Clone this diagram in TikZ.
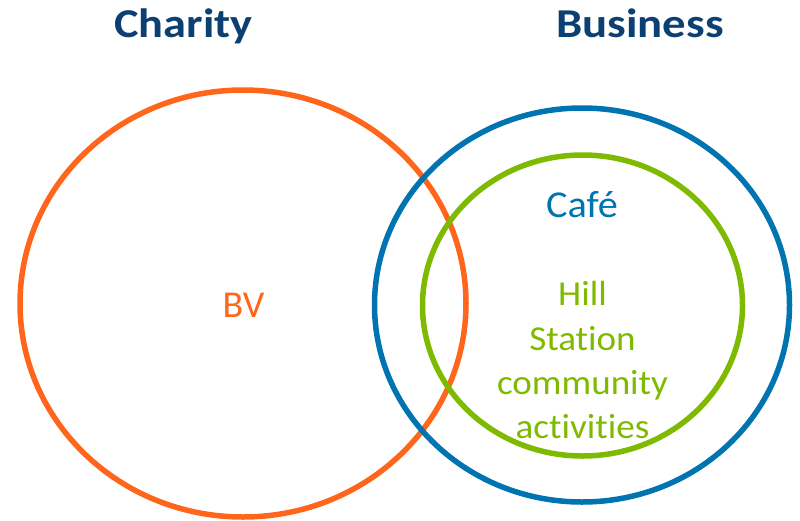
\documentclass[tikz,border=0pt]{standalone}
\usepackage{fontspec}
\setmainfont{Carlito}[Ligatures=NoCommon]
\definecolor{charityorange}{HTML}{FF661C}
\definecolor{businessblue}{HTML}{0074B0}
\definecolor{hillgreen}{HTML}{7EBA00}
\definecolor{titleblue}{HTML}{0C3F72}
\newcommand{\widen}[2]{\scalebox{#1}[1]{#2}}
\begin{document}
\begin{tikzpicture}[x=1pt,y=-1pt,
  ring/.style={line width=5.5pt},
  heading/.style={font=\fontsize{41}{48}\selectfont\bfseries, text=titleblue, anchor=base, inner sep=0pt},
  label/.style={font=\fontsize{38}{46}\selectfont, anchor=base, inner sep=0pt},
  greenlabel/.style={label, text=hillgreen, font=\fontsize{35}{44}\selectfont}]
  \useasboundingbox (0,0) rectangle (800,520);
  % headings
  \node[heading] (charity) at (183.5,37) {\widen{1.13}{Charity}};
  \node[heading] (business) at (640,37) {\widen{1.14}{Business}};
  % circles
  \draw[ring, charityorange] (243,303.5) ellipse [x radius=223, y radius=213.5];
  \draw[ring, businessblue] (582,305) ellipse [x radius=207.5, y radius=197];
  \draw[ring, hillgreen] (582.5,305.5) ellipse [x radius=160, y radius=150.5];
  % labels
  \node[label, text=charityorange] (bv) at (243.5,317) {BV};
  \node[label, text=businessblue] (cafe) at (582,217.5) {\widen{1.06}{Café}};
  \node[greenlabel] (hill) at (582.5,305) {\widen{1.06}{Hill}};
  \node[greenlabel] (station) at (582.5,350) {\widen{1.06}{Station}};
  \node[greenlabel] (community) at (582.5,394.5) {\widen{1.06}{community}};
  \node[greenlabel] (activities) at (582.5,438.5) {\widen{1.06}{activities}};
\end{tikzpicture}
\end{document}
